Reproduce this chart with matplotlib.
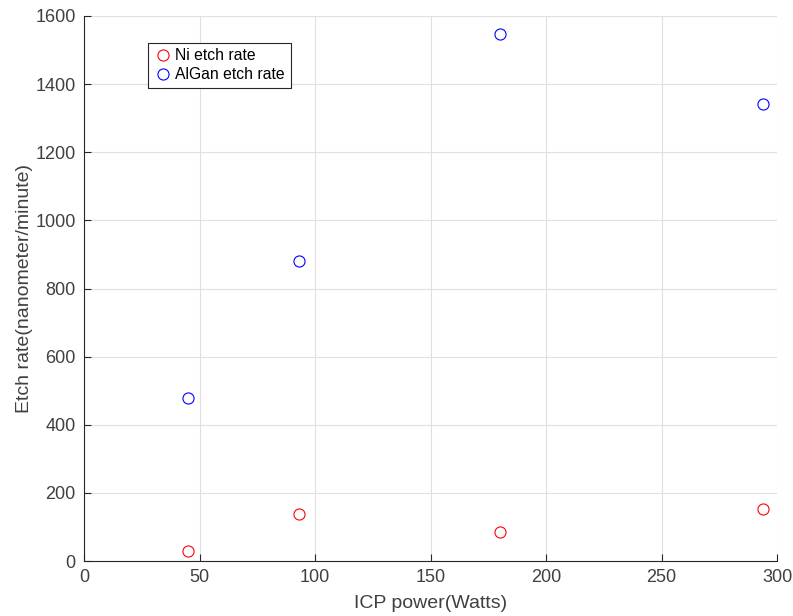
import matplotlib
matplotlib.use("Agg")
import matplotlib.pyplot as plt

plt.rcParams['font.family'] = ['Liberation Sans', 'DejaVu Sans']

icp_power = [45, 93, 180, 294]
ni_rate = [29, 138, 85, 153]
algan_rate = [478, 881, 1547, 1342]

txt = '#404040'

fig = plt.figure(figsize=(7.93, 6.16), dpi=100)
ax = fig.add_axes([84/793, 1 - 561/616, 693/793, 545/616])

ax.plot(icp_power, ni_rate, 'o', mfc='none', mec='red', ms=8, mew=0.8, label='Ni etch rate')
ax.plot(icp_power, algan_rate, 'o', mfc='none', mec='blue', ms=8, mew=0.8, label='AlGan etch rate')

ax.set_xlim(0, 300)
ax.set_ylim(0, 1600)
ax.set_xticks(range(0, 301, 50))
ax.set_yticks(range(0, 1601, 200))
ax.grid(True, color='#e0e0e0', lw=0.8)
ax.set_axisbelow(True)
for s in ['top', 'right']:
    ax.spines[s].set_visible(False)
for s in ['left', 'bottom']:
    ax.spines[s].set_color('#262626')
    ax.spines[s].set_linewidth(0.8)
ax.tick_params(direction='in', length=5, width=0.8, colors='#262626', labelcolor=txt,
               labelsize=13, pad=6)
ax.set_xlabel('ICP power(Watts)', fontsize=14, color=txt, labelpad=6)
ax.set_ylabel('Etch rate(nanometer/minute)', fontsize=14, color=txt, labelpad=2)

leg = ax.legend(loc='upper left', bbox_to_anchor=(64/693, 1 - 27/545), fontsize=11.3,
                frameon=True, fancybox=False, edgecolor='#262626', framealpha=1,
                handletextpad=0.2, borderpad=0.35, labelspacing=0.25, handlelength=1.2,
                borderaxespad=0)
leg.get_frame().set_linewidth(0.8)

fig.savefig('out.png', dpi=100)
